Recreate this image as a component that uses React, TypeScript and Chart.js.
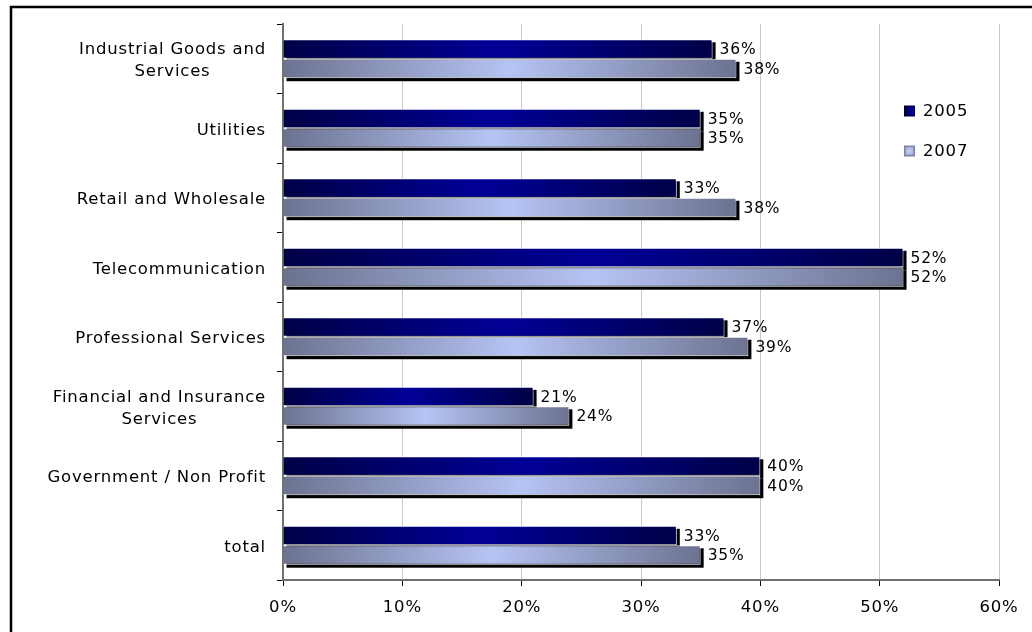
import React, { useEffect, useRef } from "react";
import { Chart, registerables } from "chart.js";

Chart.register(...registerables);

const categories: string[][] = [
  ["Industrial Goods and", "Services"],
  ["Utilities"],
  ["Retail and Wholesale"],
  ["Telecommunication"],
  ["Professional Services"],
  ["Financial and Insurance", "Services"],
  ["Government / Non Profit"],
  ["total"],
];
const series2005: number[] = [36, 35, 33, 52, 37, 21, 40, 33];
const series2007: number[] = [38, 35, 38, 52, 39, 24, 40, 35];
const seriesNames: string[] = ["2005", "2007"];
const xTicksMax = 60;
const xTickStep = 10;

const FONT = "DejaVu Sans";
const LETTER = "0.8px";

const gradStops: string[][] = [
  ["#000046", "#000098", "#000046"],
  ["#6c7290", "#b6c4f4", "#6c7290"],
];

function setSpacing(ctx: any) {
  try {
    ctx.letterSpacing = LETTER;
  } catch (e) {}
}

const spacingPlugin = {
  id: "spacing",
  beforeLayout(chart: any) {
    setSpacing(chart.ctx);
  },
  beforeDraw(chart: any) {
    setSpacing(chart.ctx);
  },
};

const framePlugin = {
  id: "frame",
  afterDraw(chart: any) {
    const ctx = chart.ctx;
    ctx.save();
    ctx.strokeStyle = "#000";
    ctx.lineWidth = 2.5;
    ctx.strokeRect(11, 7, 1200, 800);
    ctx.restore();
  },
};

const shadowPlugin = {
  id: "barShadow",
  beforeDatasetsDraw(chart: any) {
    const ctx = chart.ctx;
    ctx.save();
    ctx.fillStyle = "#000";
    chart.data.datasets.forEach((_: any, di: number) => {
      const meta = chart.getDatasetMeta(di);
      meta.data.forEach((el: any) => {
        const p = el.getProps(["x", "y", "base", "height"], true);
        ctx.fillRect(p.base + 3, p.y - p.height / 2 + 3, p.x - p.base, p.height);
      });
    });
    ctx.restore();
  },
};

const valueLabelPlugin = {
  id: "valueLabels",
  afterDatasetsDraw(chart: any) {
    const ctx = chart.ctx;
    ctx.save();
    setSpacing(ctx);
    ctx.font = `15.5px "${FONT}"`;
    ctx.fillStyle = "#000";
    ctx.textAlign = "left";
    ctx.textBaseline = "middle";
    chart.data.datasets.forEach((ds: any, di: number) => {
      const meta = chart.getDatasetMeta(di);
      meta.data.forEach((el: any, i: number) => {
        const p = el.getProps(["x", "y"], true);
        ctx.fillText(`${ds.data[i]}%`, p.x + 7, p.y + 1);
      });
    });
    ctx.restore();
  },
};

const yLabelPlugin = {
  id: "yLabels",
  afterDraw(chart: any) {
    const ctx = chart.ctx;
    const ys = chart.scales.y;
    ctx.save();
    setSpacing(ctx);
    ctx.font = `16.5px "${FONT}"`;
    ctx.fillStyle = "#000";
    ctx.textAlign = "center";
    ctx.textBaseline = "middle";
    const right = 266;
    const lh = 22;
    categories.forEach((lines, i) => {
      const yc = ys.getPixelForValue(i) + 2;
      const w = Math.max(...lines.map((l) => ctx.measureText(l).width));
      const cx = right - w / 2;
      const y0 = yc - ((lines.length - 1) * lh) / 2;
      lines.forEach((l, k) => ctx.fillText(l, cx, y0 + k * lh));
    });
    ctx.restore();
  },
};

const legendPlugin = {
  id: "customLegend",
  afterDraw(chart: any) {
    const ctx = chart.ctx;
    ctx.save();
    setSpacing(ctx);
    ctx.font = `16.5px "${FONT}"`;
    ctx.textAlign = "left";
    ctx.textBaseline = "middle";
    const yc = [111, 151];
    seriesNames.forEach((name, i) => {
      const y = yc[i];
      const x = 904;
      const s = 11;
      if (i === 0) {
        ctx.fillStyle = "#000030";
        ctx.fillRect(x, y - s / 2, s, s);
        ctx.fillStyle = "#000090";
        ctx.fillRect(x + 3, y - s / 2 + 1, s - 4, s - 2);
      } else {
        ctx.fillStyle = "#7c84a4";
        ctx.fillRect(x, y - s / 2, s, s);
        const g = ctx.createRadialGradient(x + s / 2, y, 0, x + s / 2, y, s / 2);
        g.addColorStop(0, "#c8d2f8");
        g.addColorStop(1, "#98a4d0");
        ctx.fillStyle = g;
        ctx.fillRect(x + 1.5, y - s / 2 + 1.5, s - 3, s - 3);
      }
      ctx.fillStyle = "#000";
      ctx.fillText(name, 923, y + 1);
    });
    ctx.restore();
  },
};

function makeGradient(idx: number) {
  return (c: any) => {
    const chart = c.chart;
    const stops = gradStops[idx];
    if (c.type !== "data" || !chart.chartArea) return stops[1];
    const xs = chart.scales.x;
    const x0 = xs.getPixelForValue(0);
    const x1 = xs.getPixelForValue(c.raw);
    if (!isFinite(x0) || !isFinite(x1) || x1 - x0 < 1) return stops[1];
    const g = chart.ctx.createLinearGradient(x0, 0, x1, 0);
    g.addColorStop(0, stops[0]);
    g.addColorStop(0.5, stops[1]);
    g.addColorStop(1, stops[2]);
    return g;
  };
}

export default function App() {
  const ref = useRef<HTMLCanvasElement | null>(null);

  useEffect(() => {
    document.body.style.margin = "0";
    const canvas = ref.current;
    if (!canvas) return;
    const chart = new Chart(canvas, {
      type: "bar",
      data: {
        labels: categories.map((c) => c.join(" ")),
        datasets: [
          {
            label: seriesNames[0],
            data: series2005,
            backgroundColor: makeGradient(0),
            borderColor: "#ffffff",
            borderWidth: 1,
            categoryPercentage: 0.56,
            barPercentage: 1,
          },
          {
            label: seriesNames[1],
            data: series2007,
            backgroundColor: makeGradient(1),
            borderColor: "#ffffff",
            borderWidth: 1,
            categoryPercentage: 0.56,
            barPercentage: 1,
          },
        ],
      },
      options: {
        indexAxis: "y",
        responsive: false,
        animation: false,
        devicePixelRatio: 1,
        layout: { padding: { left: 0, top: 24, right: 33, bottom: 0 } },
        plugins: {
          legend: { display: false },
          tooltip: { enabled: false },
        },
        scales: {
          x: {
            min: 0,
            max: xTicksMax,
            ticks: {
              stepSize: xTickStep,
              callback: (v: any) => `${v}%`,
              font: { family: FONT, size: 16.5 },
              color: "#000",
              padding: 12,
            },
            grid: {
              color: "#c8c8c8",
              lineWidth: 1,
              drawTicks: true,
              tickLength: 6,
              tickColor: "#000",
            },
            border: { display: true, color: "#707070", width: 2 },
            afterFit: (s: any) => {
              s.height = 52;
            },
          },
          y: {
            ticks: { display: false },
            grid: {
              offset: true,
              drawOnChartArea: false,
              drawTicks: true,
              tickLength: 6,
              tickColor: "#000",
              color: "#000",
            },
            border: { display: true, color: "#707070", width: 2 },
            afterFit: (s: any) => {
              s.width = 283;
            },
          },
        },
      },
      plugins: [spacingPlugin, shadowPlugin, valueLabelPlugin, yLabelPlugin, legendPlugin, framePlugin],
    } as any);
    return () => chart.destroy();
  }, []);

  return (
    <div style={{ width: 1032, height: 632, background: "#fff" }}>
      <canvas ref={ref} width={1032} height={632} style={{ display: "block" }} />
    </div>
  );
}
